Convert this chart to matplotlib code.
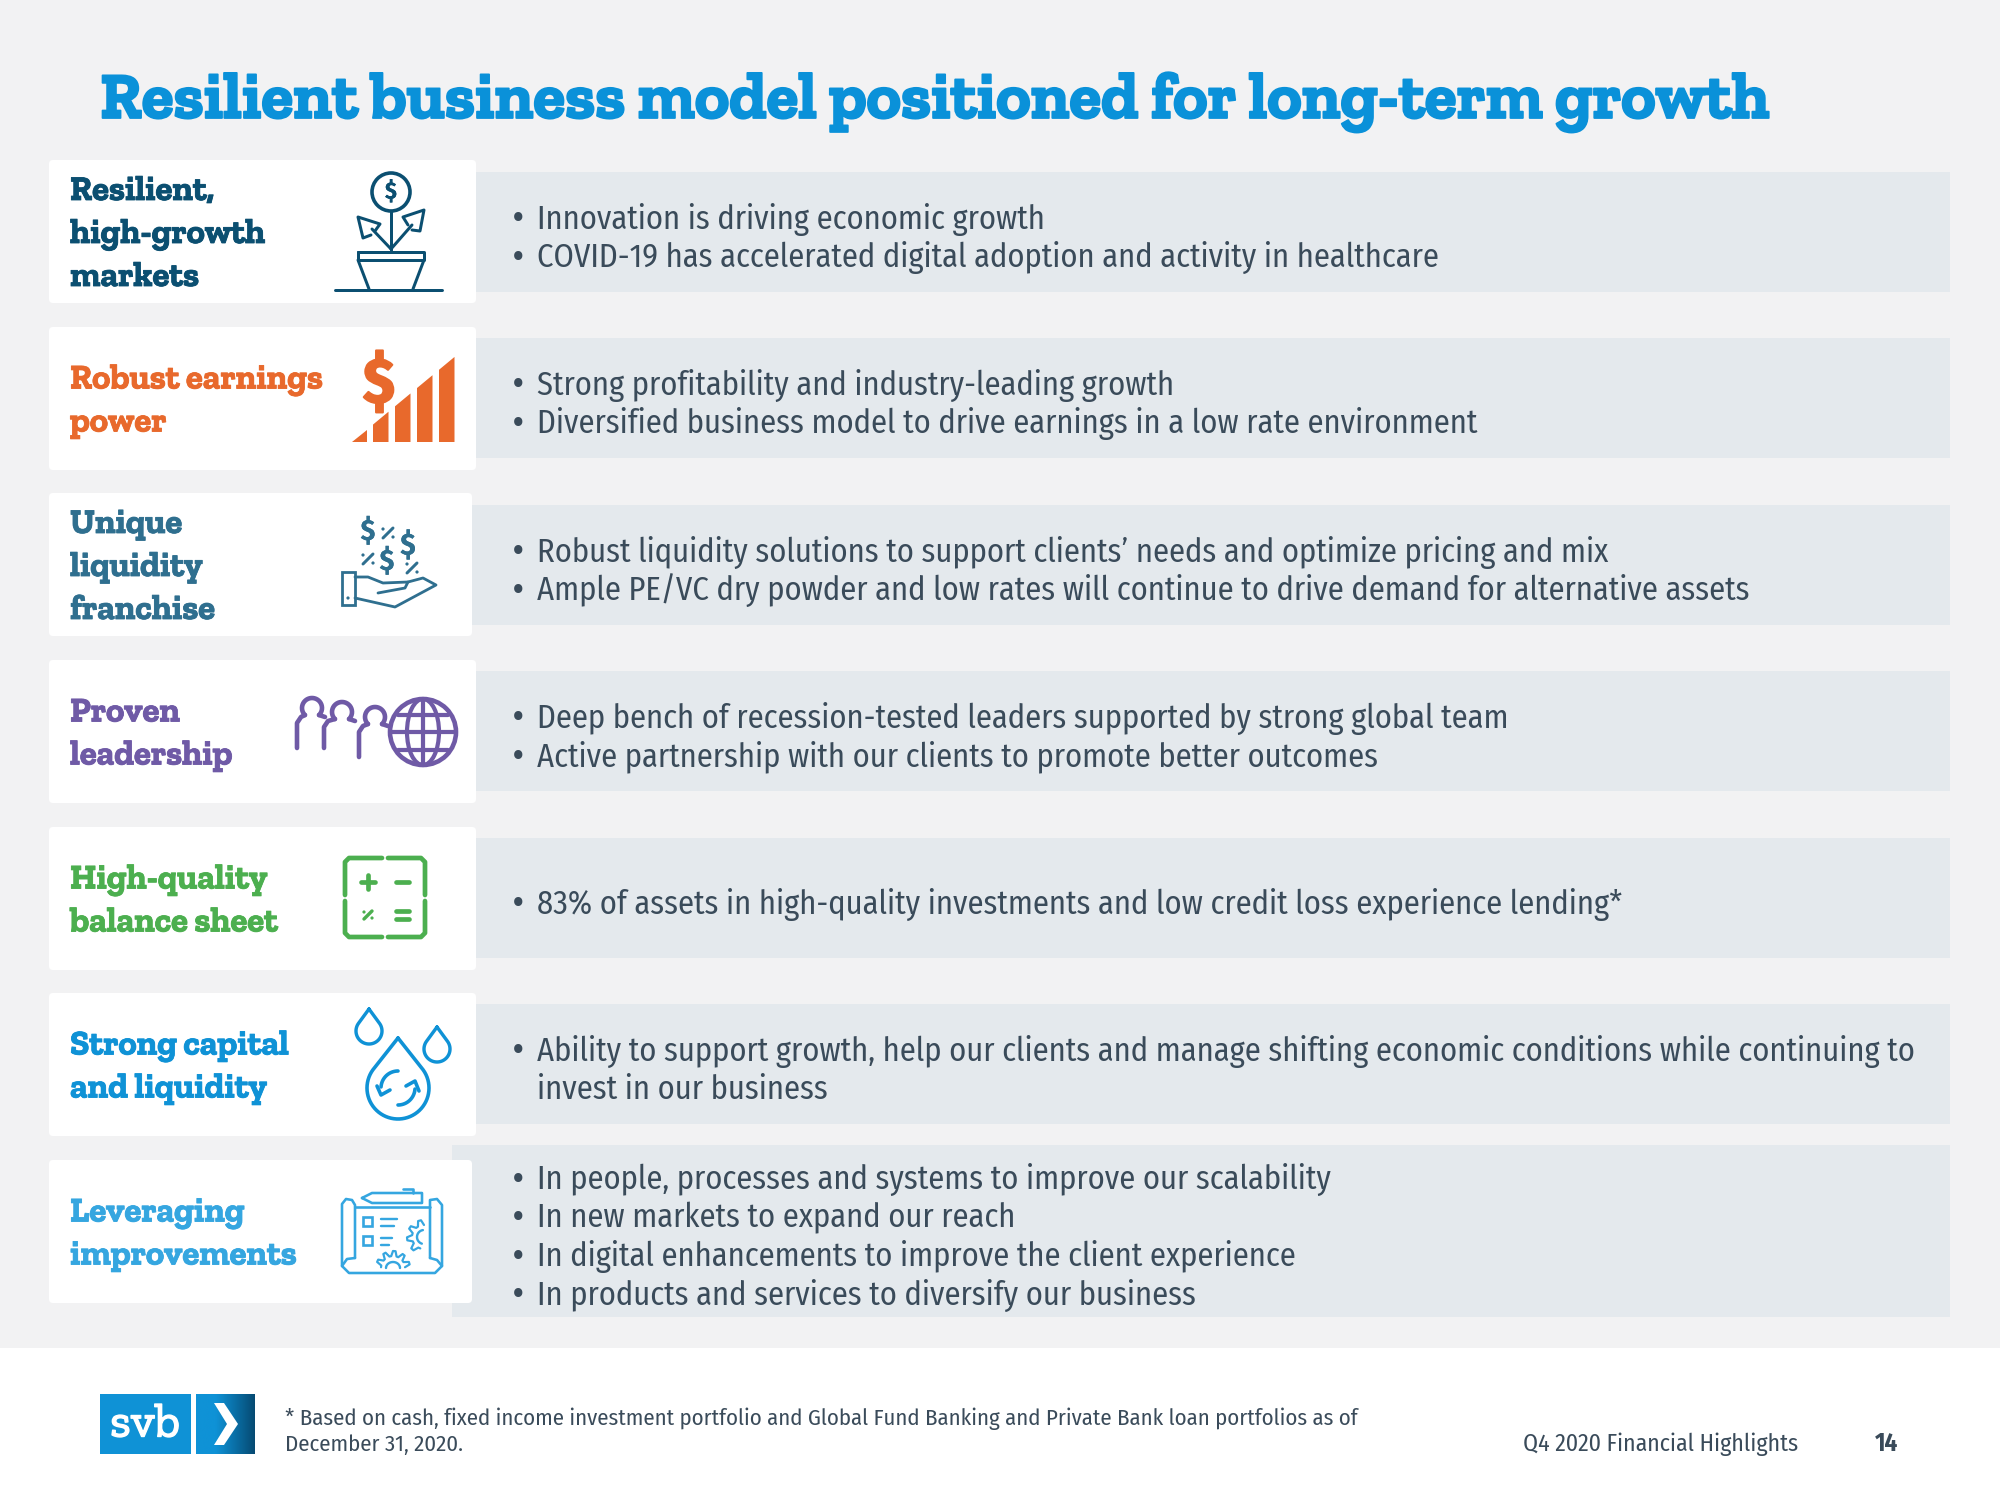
"""Recreate the SVB 'Resilient business model' slide."""

from __future__ import annotations

import matplotlib

matplotlib.use("Agg")
import matplotlib.patheffects as pe
import matplotlib.pyplot as plt
import numpy as np
from matplotlib.colors import LinearSegmentedColormap
from matplotlib.patches import Circle, Ellipse, FancyBboxPatch, Polygon, Rectangle

TITLE = "Resilient business model positioned for long-term growth"

CARD_LABELS = [
    ["Resilient,", "high-growth", "markets"],
    ["Robust earnings", "power"],
    ["Unique", "liquidity", "franchise"],
    ["Proven", "leadership"],
    ["High-quality", "balance sheet"],
    ["Strong capital", "and liquidity"],
    ["Leveraging", "improvements"],
]
CARD_COLORS = ["#0B4F71", "#E8692C", "#2F6F8F", "#6F5AA6", "#4CAF4F", "#0F92D6", "#35A6E0"]

BULLETS = [
    ["Innovation is driving economic growth",
     "COVID-19 has accelerated digital adoption and activity in healthcare"],
    ["Strong profitability and industry-leading growth",
     "Diversified business model to drive earnings in a low rate environment"],
    ["Robust liquidity solutions to support clients’ needs and optimize pricing and mix",
     "Ample PE/VC dry powder and low rates will continue to drive demand for alternative assets"],
    ["Deep bench of recession-tested leaders supported by strong global team",
     "Active partnership with our clients to promote better outcomes"],
    ["83% of assets in high-quality investments and low credit loss experience lending*"],
    ["Ability to support growth, help our clients and manage shifting economic conditions while continuing to\ninvest in our business"],
    ["In people, processes and systems to improve our scalability",
     "In new markets to expand our reach",
     "In digital enhancements to improve the client experience",
     "In products and services to diversify our business"],
]

FOOTNOTE = ["* Based on cash, fixed income investment portfolio and Global Fund Banking and "
            "Private Bank loan portfolios as of", "December 31, 2020."]
FOOTER_LABEL = "Q4 2020 Financial Highlights"
PAGE = "14"

BODY = "#3A4B5A"
# closest faces first, the documented families as fallback
SERIF = ["Zilla Slab", "Liberation Serif"]
SANS = ["Fira Sans Condensed", "Lato"]


def line(ax, xs, ys, c, lw=3.0):
    ax.plot(xs, ys, color=c, lw=lw * 0.72, solid_capstyle="round", solid_joinstyle="round")


def label(ax, x, y, s, c, fs, stroke=0.0):
    ax.text(x, y, s, color=c, fontsize=fs, fontweight="bold", family=SANS, ha="center", va="center",
            path_effects=[pe.withStroke(linewidth=stroke, foreground=c)])


def percent(ax, c, x, y, r=5, lw=3.0):
    line(ax, [x - r, x + r], [y + r, y - r], c, lw)
    ax.add_patch(Circle((x - r, y - r + 1), 1.6, color=c, lw=0))
    ax.add_patch(Circle((x + r, y + r - 1), 1.6, color=c, lw=0))


def icon_plant(ax, c):
    ax.add_patch(Circle((391, 192), 19, fill=False, ec=c, lw=2.6))
    label(ax, 391, 192, "$", c, 17)
    line(ax, [391, 391], [211, 250], c)
    line(ax, [335, 442], [290, 290], c)
    line(ax, [358, 424, 424, 358, 358], [252, 252, 260, 260, 252], c)
    line(ax, [358, 369], [260, 289], c)
    line(ax, [424, 413], [260, 289], c)
    line(ax, [391, 372], [249, 229], c)
    line(ax, [391, 412], [249, 225], c)
    line(ax, [375, 380, 358, 363, 371], [231, 224, 217, 238, 235], c, 3)
    line(ax, [408, 403, 424, 420, 412], [225, 217, 210, 231, 230], c, 3)


def icon_earnings(ax, c):
    slope = 0.83
    top = lambda x: 442 - (x - 352) * slope
    ax.add_patch(Polygon([(352, 442), (367, 442), (367, top(367))], color=c, lw=0))
    for x0 in (373, 395, 417, 439):
        x1 = x0 + 15.5
        ax.add_patch(Polygon([(x0, 442), (x1, 442), (x1, top(x1)), (x0, top(x0))], color=c, lw=0))
    label(ax, 379, 385, "$", c, 45, stroke=1.5)


def icon_hand(ax, c):
    ax.add_patch(Rectangle((342, 572), 13, 33, fill=False, ec=c, lw=2))
    ax.add_patch(Circle((348, 598), 1.6, color=c, lw=0))
    line(ax, [355, 368, 383, 408, 405, 378], [577, 577, 583, 582, 588, 593], c, 2.8)
    line(ax, [408, 423, 436, 395, 355], [582, 578, 585, 607, 598], c, 2.8)
    for x, y, fs in [(368, 532, 21), (408, 546, 22), (387, 562, 21)]:
        label(ax, x, y, "$", c, fs)
    for x, y in [(388, 533), (368, 559), (412, 568)]:
        percent(ax, c, x, y)


def person(ax, c, cx, cy, bx, bottom):
    t = np.linspace(0.75 * np.pi, 2.25 * np.pi, 30)
    line(ax, cx + 10 * np.cos(t), cy + 10 * np.sin(t), c, 4.6)
    line(ax, [cx - 7, bx + 4, bx, bx], [cy + 7, cy + 9, cy + 15, bottom], c, 4.6)
    line(ax, [cx + 7, cx + 13], [cy + 7, cy + 9], c, 4.6)


def icon_people(ax, c):
    person(ax, c, 312, 708, 297, 748)
    person(ax, c, 342, 712, 324, 748)
    person(ax, c, 375, 717, 359, 757)
    ax.add_patch(Circle((423, 732), 33, fill=False, ec=c, lw=3.3))
    ax.add_patch(Ellipse((423, 732), 32, 66, fill=False, ec=c, lw=3.0))
    line(ax, [423, 423], [699, 765], c, 4.2)
    line(ax, [390, 456], [732, 732], c, 4.2)
    line(ax, [398, 448], [715, 715], c, 4.2)
    line(ax, [398, 448], [750, 750], c, 4.2)


def icon_calc(ax, c):
    lw = 4.7
    line(ax, [345, 345, 349, 382], [895, 862, 858, 858], c, lw)
    line(ax, [388, 421, 425, 425], [858, 858, 862, 895], c, lw)
    line(ax, [345, 345, 349, 382], [901, 933, 937, 937], c, lw)
    line(ax, [388, 421, 425, 425], [937, 937, 933, 901], c, lw)
    line(ax, [361, 375], [882, 882], c, lw)
    line(ax, [368, 368], [875, 889], c, lw)
    line(ax, [396, 409], [882, 882], c, lw)
    line(ax, [396, 409], [911, 911], c, lw)
    line(ax, [396, 409], [919, 919], c, lw)
    percent(ax, c, 368, 915, 4, 3.4)


def drop(ax, c, x, top, bottom, r, lw):
    cy = bottom - r
    t = np.linspace(-0.2 * np.pi, 1.2 * np.pi, 50)
    line(ax, np.r_[x, x + r * np.cos(t), x], np.r_[top, cy + r * np.sin(t), top], c, lw)


def icon_drops(ax, c):
    drop(ax, c, 369, 1009, 1044, 13, 3.4)
    drop(ax, c, 437, 1027, 1062, 13, 3.4)
    drop(ax, c, 398, 1038, 1119, 31, 3.6)
    t = np.linspace(1.02 * np.pi, 1.5 * np.pi, 20)
    line(ax, 398 + 17 * np.cos(t), 1088 + 17 * np.sin(t), c, 3.6)
    line(ax, 398 - 17 * np.cos(t), 1088 - 17 * np.sin(t), c, 3.6)
    line(ax, [377, 381, 390], [1086, 1095, 1090], c, 3.6)
    line(ax, [406, 415, 419], [1086, 1081, 1091], c, 3.6)


def gear(ax, c, cx, cy, r0, r1, a0, a1, n):
    angles = np.linspace(a0, a1, n * 4 + 1)
    radii = np.tile([r0, r0, r1, r1], n + 1)[: n * 4 + 1]
    line(ax, cx + radii * np.cos(angles), cy + radii * np.sin(angles), c, 2.2)


def icon_blueprint(ax, c):
    lw = 2.6
    line(ax, [355, 355, 352, 346, 342, 342, 342, 349, 435, 442, 442, 437, 430, 430],
         [1258, 1205, 1200, 1199, 1204, 1240, 1266, 1273, 1273, 1266, 1205, 1199, 1200, 1258], c, lw)
    line(ax, [355, 430], [1207, 1207], c, lw)
    line(ax, [342, 347, 355], [1266, 1259, 1258], c, lw)
    line(ax, [430, 437, 442], [1258, 1260, 1266], c, lw)
    line(ax, [362, 372, 422, 422, 372, 362], [1198, 1193, 1193, 1203, 1203, 1198], c, lw)
    line(ax, [403, 413, 413], [1189, 1189, 1193], c, lw)
    ax.add_patch(Rectangle((363, 1217), 9, 9, fill=False, ec=c, lw=1.9))
    ax.add_patch(Rectangle((363, 1236), 9, 9, fill=False, ec=c, lw=1.9))
    line(ax, [381, 397], [1219, 1219], c, 2.4)
    line(ax, [381, 394], [1226, 1226], c, 2.4)
    line(ax, [381, 392], [1238, 1238], c, 2.4)
    line(ax, [381, 389], [1245, 1245], c, 2.4)
    gear(ax, c, 424, 1237, 12, 17, 0.6 * np.pi, 1.5 * np.pi, 4)
    t = np.linspace(0.6 * np.pi, 1.45 * np.pi, 20)
    line(ax, 424 + 7 * np.cos(t), 1237 + 7 * np.sin(t), c, 2.4)
    gear(ax, c, 393, 1268, 12, 17, 1.02 * np.pi, 1.98 * np.pi, 5)
    t = np.linspace(np.pi, 2 * np.pi, 20)
    line(ax, 393 + 7 * np.cos(t), 1268 + 6 * np.sin(t), c, 2.4)


def main() -> None:
    fig = plt.figure(figsize=(20, 15), dpi=100, facecolor="#F2F2F3")
    ax = fig.add_axes([0, 0, 1, 1])
    ax.set_xlim(0, 2000)
    ax.set_ylim(1500, 0)
    ax.axis("off")

    ax.add_patch(Rectangle((0, 1348), 2000, 152, color="white", lw=0))
    title_color = "#0A91D9"
    ax.text(100, 118, TITLE, color=title_color, fontsize=47.2, fontweight="bold", family=SERIF,
            va="baseline", ha="left",
            path_effects=[pe.withStroke(linewidth=1.3, foreground=title_color)])

    band_y = [172, 338, 505, 671, 838, 1004, 1145]
    band_h = [120, 120, 120, 120, 120, 120, 172]
    band_x = [476, 476, 472, 476, 476, 476, 452]
    card_y = [160, 327, 493, 660, 827, 993, 1160]
    card_r = [476, 476, 472, 476, 476, 476, 472]
    icons = [icon_plant, icon_earnings, icon_hand, icon_people, icon_calc, icon_drops, icon_blueprint]

    for i, lines in enumerate(CARD_LABELS):
        ax.add_patch(Rectangle((band_x[i], band_y[i]), 1950 - band_x[i], band_h[i], color="#E4E9ED", lw=0))
        ax.add_patch(FancyBboxPatch((51, card_y[i] + 2), card_r[i] - 53, 139,
                                    boxstyle="round,pad=2,rounding_size=4", fc="white", ec="none"))
        for k, s in enumerate(lines):
            y = card_y[i] + 83 + (k - (len(lines) - 1) / 2) * 43
            ax.text(70, y, s, color=CARD_COLORS[i], fontsize=25, fontweight="bold",
                    family=SERIF, va="baseline", ha="left",
                    path_effects=[pe.withStroke(linewidth=0.6, foreground=CARD_COLORS[i])])
        icons[i](ax, CARD_COLORS[i])

        mid = band_y[i] + band_h[i] / 2
        n = sum(s.count("\n") + 1 for s in BULLETS[i])
        y = mid + 16 - (n - 1) * 38.6 / 2
        for s in BULLETS[i]:
            ax.text(518, y - 9, "•", color=BODY, fontsize=30, family=SANS, ha="center", va="center")
            for part in s.split("\n"):
                ax.text(537, y, part, color=BODY, fontsize=23.4, family=SANS, va="baseline", ha="left")
                y += 38.6

    # logo
    ax.add_patch(Rectangle((100, 1394), 91, 60, color="#0F92D6", lw=0))
    grad = np.linspace(0, 1, 128).reshape(1, -1)
    cmap = LinearSegmentedColormap.from_list("logo", ["#0F92D6", "#0F92D6", "#0A6FA6", "#064A72"])
    ax.imshow(grad, extent=(196, 255, 1454, 1394), cmap=cmap, aspect="auto", zorder=2)
    ax.set_xlim(0, 2000)
    ax.set_ylim(1500, 0)
    ax.text(145, 1425, "svb", color="white", fontsize=34, family=SERIF, ha="center", va="center",
            path_effects=[pe.withStroke(linewidth=1.0, foreground="white")])
    ax.add_patch(Polygon([(214, 1403), (224, 1403), (238, 1424), (224, 1445), (214, 1445), (227, 1424)],
                         color="white", lw=0, zorder=3))

    for k, s in enumerate(FOOTNOTE):
        ax.text(285, 1425 + k * 26, s, color=BODY, fontsize=16.45, family=SANS, va="baseline", ha="left")
    ax.text(1523, 1451, FOOTER_LABEL, color=BODY, fontsize=17.2, family=SANS, va="baseline", ha="left")
    ax.text(1875, 1451, PAGE, color=BODY, fontsize=18, fontweight="bold", family=SANS, va="baseline", ha="left")

    fig.savefig("out.png", dpi=100, facecolor=fig.get_facecolor())
    plt.close(fig)


if __name__ == "__main__":
    main()
